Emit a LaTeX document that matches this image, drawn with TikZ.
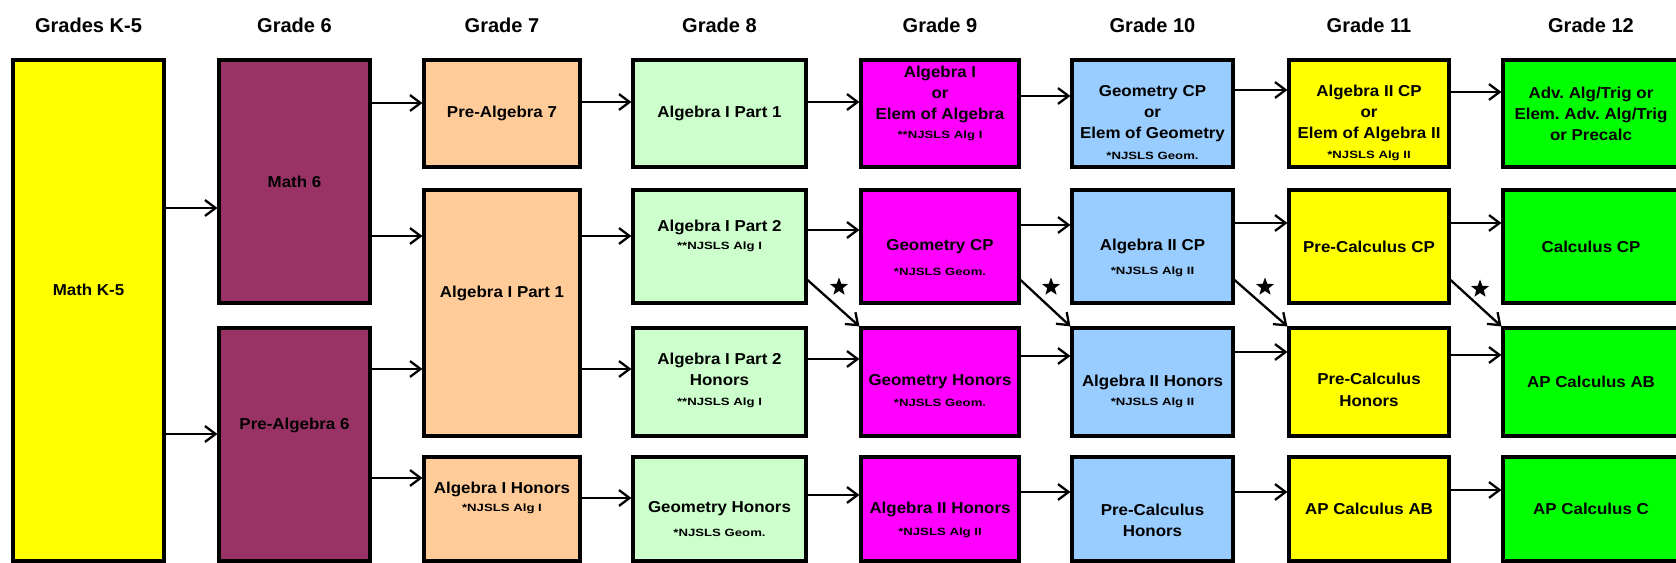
\documentclass[tikz,border=0pt]{standalone}
\usepackage{fontspec}
\setmainfont{Liberation Sans}
\newfontfamily\coursefont{Liberation Sans}[FakeStretch=1.07]
\newfontfamily\notefont{Liberation Sans}[FakeStretch=1.25]
\usetikzlibrary{arrows.meta}
\usetikzlibrary{shapes.geometric}

\definecolor{kfive}{HTML}{FFFF00}
\definecolor{gsix}{HTML}{993366}
\definecolor{gseven}{HTML}{FFCC99}
\definecolor{geight}{HTML}{CCFFCC}
\definecolor{gnine}{HTML}{FF00FF}
\definecolor{gten}{HTML}{99CCFF}
\definecolor{geleven}{HTML}{FFFF00}
\definecolor{gtwelve}{HTML}{00FF00}

\tikzset{
  course/.style={draw=black,line width=1.8pt,inner sep=1pt,align=center,
    font=\coursefont\bfseries\fontsize{9}{12}\selectfont},
  grade/.style={font=\bfseries\fontsize{11.4}{13}\selectfont},
  raised/.style={text depth=24pt},
  notelbl/.style={inner sep=0pt,font=\notefont\bfseries\fontsize{6}{7}\selectfont},
  note/.style 2 args={label={[notelbl,yshift=#1]center:#2}},
  colK/.style={course,fill=kfive,minimum width=3.02cm},
  col6/.style={course,fill=gsix,minimum width=3.02cm},
  col7/.style={course,fill=gseven,minimum width=3.12cm},
  col8/.style={course,fill=geight,minimum width=3.46cm},
  col9/.style={course,fill=gnine,minimum width=3.16cm},
  col10/.style={course,fill=gten,minimum width=3.22cm},
  col11/.style={course,fill=geleven,minimum width=3.2cm},
  col12/.style={course,fill=gtwelve,minimum width=3.52cm},
  row1/.style={minimum height=2.14cm},
  row2/.style={minimum height=2.26cm},
  row3/.style={minimum height=2.16cm},
  row4/.style={minimum height=2.08cm}
}
\frenchspacing

\begin{document}
\begin{tikzpicture}[x=0.02cm,y=-0.02cm]
    \useasboundingbox (0,0) rectangle (1676,563);
    % grade headings
    \node[grade] (hK) at (88.5,25) {Grades K-5};
    \node[grade] (h6) at (294.5,25) {Grade 6};
    \node[grade] (h7) at (502,25) {Grade 7};
    \node[grade] (h8) at (719.5,25) {Grade 8};
    \node[grade] (h9) at (940,25) {Grade 9};
    \node[grade] (h10) at (1152.5,25) {Grade 10};
    \node[grade] (h11) at (1369,25) {Grade 11};
    \node[grade] (h12) at (1591,25) {Grade 12};
    % K-5 and 6
    \node[colK,minimum height=10.02cm,raised] (mathK) at (88.5,310.5) {Math K-5};
    \node[col6,minimum height=4.86cm] (math6) at (294.5,181.5) {Math 6};
    \node[col6,minimum height=4.66cm,raised] (prealg6) at (294.5,444.5) {Pre-Algebra 6};
    % 7
    \node[col7,row1] (prealg7) at (502,113.5) {Pre-Algebra 7};
    \node[col7,minimum height=4.92cm,raised] (algA7) at (502,313) {Algebra I Part 1};
    \node[col7,row4,raised,note={0cm}{*NJSLS Alg I}] (algH7) at (502,509) {Algebra I Honors};
    % 8
    \node[col8,row1] (algA8) at (719.5,113.5) {Algebra I Part 1};
    \node[col8,row2,raised,note={0cm}{**NJSLS Alg I}] (algB8) at (719.5,246.5) {Algebra I Part 2};
    \node[col8,row3,text depth=14pt,note={-0.42cm}{**NJSLS Alg I}] (algBH8) at (719.5,382) {Algebra I Part 2\\Honors};
    \node[col8,row4,note={-0.48cm}{*NJSLS Geom.}] (geoH8) at (719.5,509) {Geometry Honors};
    % 9
    \node[col9,row1,raised,note={-0.45cm}{**NJSLS Alg I}] (alg9) at (940,113.5) {Algebra I\\or\\Elem of Algebra};
    \node[col9,row2,note={-0.51cm}{*NJSLS Geom.}] (geo9) at (940,246.5) {Geometry CP};
    \node[col9,row3,note={-0.42cm}{*NJSLS Geom.}] (geoH9) at (940,382) {Geometry Honors};
    \node[col9,row4,note={-0.48cm}{*NJSLS Alg II}] (algIIH9) at (940,509) {Algebra II Honors};
    % 10
    \node[col10,row1,note={-0.85cm}{*NJSLS Geom.}] (geo10) at (1152.5,113.5) {Geometry CP\\or\\Elem of Geometry};
    \node[col10,row2,note={-0.51cm}{*NJSLS Alg II}] (algII10) at (1152.5,246.5) {Algebra II CP};
    \node[col10,row3,note={-0.42cm}{*NJSLS Alg II}] (algIIH10) at (1152.5,382) {Algebra II Honors};
    \node[col10,row4,text height=31pt] (precH10) at (1152.5,509) {Pre-Calculus\\Honors};
    % 11
    \node[col11,row1,note={-0.85cm}{*NJSLS Alg II}] (algII11) at (1369,113.5) {Algebra II CP\\or\\Elem of Algebra II};
    \node[col11,row2] (prec11) at (1369,246.5) {Pre-Calculus CP};
    \node[col11,row3,text height=27.5pt] (precH11) at (1369,382) {Pre-Calculus\\Honors};
    \node[col11,row4] (apab11) at (1369,509) {AP Calculus AB};
    % 12
    \node[col12,row1] (adv12) at (1591,113.5) {Adv. Alg/Trig or\\Elem. Adv. Alg/Trig\\or Precalc};
    \node[col12,row2] (calc12) at (1591,246.5) {Calculus CP};
    \node[col12,row3] (apab12) at (1591,382) {AP Calculus AB};
    \node[col12,row4] (apbc12) at (1591,509) {AP Calculus C};
    % stars on the diagonal moves
    \begin{scope}[every node/.style={star,star points=5,star point ratio=2.4,fill=black,inner sep=0pt,minimum size=0.38cm}]
      \node (s89) at (839,287) {};
      \node (s910) at (1051,287) {};
      \node (s1011) at (1265,287) {};
      \node (s1112) at (1480,289) {};
    \end{scope}
    \begin{scope}[every edge/.style={draw=black,line width=1.3pt,-{Straight Barb[length=6pt,width=9pt]}}]
      \path (mathK.east |- 0,208) edge (math6.west |- 0,208);
      \path (mathK.east |- 0,434) edge (prealg6.west |- 0,434);
      \path (math6.east |- 0,103) edge (prealg7.west |- 0,103);
      \path (math6.east |- 0,236) edge (algA7.west |- 0,236);
      \path (prealg6.east |- 0,369) edge (algA7.west |- 0,369);
      \path (prealg6.east |- 0,478) edge (algH7.west |- 0,478);
      \path (prealg7.east |- 0,102) edge (algA8.west |- 0,102);
      \path (algA7.east |- 0,236) edge (algB8.west |- 0,236);
      \path (algA7.east |- 0,369) edge (algBH8.west |- 0,369);
      \path (algH7.east |- 0,498) edge (geoH8.west |- 0,498);
      \path (algA8.east |- 0,102) edge (alg9.west |- 0,102);
      \path (algB8.east |- 0,230) edge (geo9.west |- 0,230);
      \path (algB8.east |- 0,280) edge (geoH9.north west);
      \path (algBH8.east |- 0,359) edge (geoH9.west |- 0,359);
      \path (geoH8.east |- 0,495) edge (algIIH9.west |- 0,495);
      \path (alg9.east |- 0,96) edge (geo10.west |- 0,96);
      \path (geo9.east |- 0,225) edge (algII10.west |- 0,225);
      \path (geo9.east |- 0,280) edge (algIIH10.north west);
      \path (geoH9.east |- 0,356) edge (algIIH10.west |- 0,356);
      \path (algIIH9.east |- 0,492) edge (precH10.west |- 0,492);
      \path (geo10.east |- 0,90) edge (algII11.west |- 0,90);
      \path (algII10.east |- 0,223) edge (prec11.west |- 0,223);
      \path (algII10.east |- 0,280) edge (precH11.north west);
      \path (algIIH10.east |- 0,352) edge (precH11.west |- 0,352);
      \path (precH10.east |- 0,492) edge (apab11.west |- 0,492);
      \path (algII11.east |- 0,92) edge (adv12.west |- 0,92);
      \path (prec11.east |- 0,223) edge (calc12.west |- 0,223);
      \path (prec11.east |- 0,280) edge (apab12.north west);
      \path (precH11.east |- 0,355) edge (apab12.west |- 0,355);
      \path (apab11.east |- 0,490) edge (apbc12.west |- 0,490);
    \end{scope}
\end{tikzpicture}
\end{document}
